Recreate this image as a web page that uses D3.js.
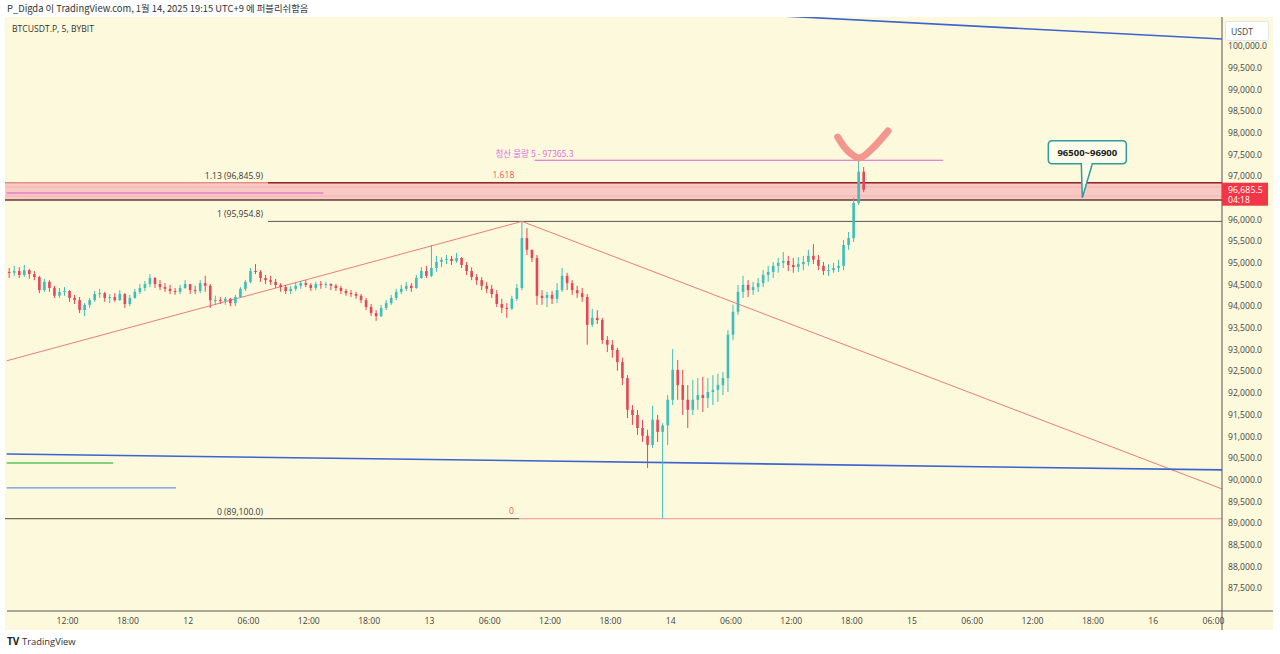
<!DOCTYPE html>
<html><head><meta charset="utf-8">
<script src="https://cdn.jsdelivr.net/npm/d3@7"></script>
<style>
html,body{margin:0;padding:0;background:#fff;}
svg{display:block;font-family:"Open Sans","Noto Sans","Noto Sans CJK KR",sans-serif;}
</style></head><body>
<svg id="c" width="1280" height="654"></svg>
<script>
// ---------------- data ----------------
const candleStart = "2025-01-11T06:00:00Z";
const candleMinutes = 30;
const firstOpen = 94790;
const highs = [
 94880,94930,94900,94950,94860,94810,94700,94630,94600,94470,
 94420,94440,94370,94260,94210,94070,94190,94350,94400,94330,
 94280,94300,94370,94300,94260,94400,94510,94580,94740,94670,
 94600,94530,94490,94420,94490,94600,94510,94470,94600,94700,
 94510,94240,94210,94210,94190,94260,94440,94600,94880,94970,
 94830,94720,94700,94630,94530,94490,94470,94560,94580,94600,
 94530,94560,94580,94560,94530,94510,94470,94400,94370,94330,
 94280,94190,94050,93910,94030,94140,94260,94400,94490,94560,
 94530,94720,94900,94930,95410,95160,95130,95180,95160,95230,
 95130,95020,94900,94740,94670,94560,94490,94370,94170,94070,
 94240,94510,95954.8,95800,95300,95180,94370,94330,94350,94530,
 94880,94770,94600,94470,94420,94280,93940,93910,93730,93310,
 93220,93040,92810,92410,91720,91610,91380,91150,91700,91490,
 91300,91950,93010,92760,92530,92180,92300,92340,92370,92340,
 92410,92440,92480,93450,94030,94490,94700,94600,94560,94650,
 94830,94930,95020,95110,95250,95160,95110,95130,95160,95300,
 95430,95180,95020,94970,95000,95070,95530,95710,96500,97370,
 97210];
const lows = [
 94650,94700,94650,94670,94630,94600,94300,94330,94330,94190,
 94190,94240,94100,94050,93840,93770,93960,94100,94190,94100,
 94070,94100,94120,93960,94000,94170,94280,94350,94440,94420,
 94370,94330,94280,94260,94280,94400,94280,94280,94300,94330,
 93960,94030,94050,94030,94000,94000,94190,94350,94530,94740,
 94560,94510,94490,94420,94330,94280,94280,94350,94400,94440,
 94350,94370,94400,94420,94370,94350,94280,94240,94210,94170,
 94070,93910,93770,93660,93750,93910,94030,94140,94280,94350,
 94330,94400,94630,94650,94670,94790,94900,94970,94950,95000,
 94880,94720,94600,94490,94370,94300,94190,93980,93840,93730,
 93910,94120,94370,95180,95020,94030,94030,93980,94050,94070,
 94330,94370,94260,94190,94100,93110,93520,93590,93130,92940,
 92810,92510,92180,91420,91260,91030,90870,90270,90730,90870,
 89100,90800,91720,91840,91490,91190,91490,91610,91560,91650,
 91720,91790,91950,92020,93220,93800,94190,94210,94260,94330,
 94440,94560,94650,94770,94880,94810,94770,94790,94830,94930,
 94970,94830,94720,94700,94770,94790,94830,95300,95480,96330,
 96630];
const closes = [
 94770,94810,94720,94830,94740,94670,94370,94560,94420,94240,
 94330,94350,94190,94140,93910,94030,94140,94280,94300,94190,
 94210,94140,94280,94050,94190,94330,94420,94510,94650,94510,
 94440,94400,94350,94330,94420,94510,94370,94350,94530,94470,
 94140,94140,94120,94170,94070,94210,94400,94560,94810,94790,
 94650,94600,94560,94490,94440,94350,94400,94470,94530,94490,
 94420,94510,94490,94510,94470,94420,94350,94300,94280,94240,
 94140,93980,93840,93770,93960,94070,94190,94330,94400,94470,
 94420,94650,94810,94700,94880,95020,95070,95090,95040,95110,
 94950,94810,94670,94600,94470,94400,94280,94050,93960,93940,
 94170,94420,95570,95300,95110,94240,94190,94260,94170,94370,
 94700,94530,94370,94300,94210,93570,93730,93680,93220,93110,
 92990,92710,92340,91610,91490,91190,91010,90800,91380,91100,
 91250,91840,92530,92180,91840,91610,91840,91950,91880,92020,
 92070,92180,92340,93340,93870,94330,94490,94370,94440,94530,
 94720,94790,94930,95000,95040,94950,94900,94970,95020,95160,
 95070,94930,94810,94830,94880,94930,95410,95570,96380,97100,
 96685.5];

const priceTicks = [87500,88000,88500,89000,89500,90000,90500,91000,91500,92000,92500,93000,
  93500,94000,94500,95000,95500,96000,96500,97000,97500,98000,98500,99000,99500,100000];
const timeTickLabels = ["12:00","18:00","12","06:00","12:00","18:00","13","06:00","12:00","18:00",
  "14","06:00","12:00","18:00","15","06:00","12:00","18:00","16","06:00"];

// drawings: [time, price] anchors
const blueTopLine = [["2025-01-14T03:00:00Z",100790],["2025-01-16T07:00:00Z",100160]];
const blueLowLine = [["2025-01-11T06:00:00Z",90592],["2025-01-16T07:00:00Z",90223]];
const redUpLine = [["2025-01-11T06:00:00Z",92740],["2025-01-13T09:15:00Z",95954.8]];
const redDownLine = [["2025-01-13T09:15:00Z",95954.8],["2025-01-16T07:00:00Z",89775]];
const greenLine = [["2025-01-11T06:00:00Z",90384],["2025-01-11T16:35:00Z",90384]];
const lightBlueLine = [["2025-01-11T06:00:00Z",89807],["2025-01-11T22:50:00Z",89807]];
const fibLabels = ["1.13 (96,845.9)","1 (95,954.8)","0 (89,100.0)"];
const fibPrices = [96845.9, 95954.8, 89100];
const fibStart = "2025-01-12T08:00:00Z";
const fib2Start = "2025-01-13T09:00:00Z";
const bandTop = 96845.9, bandBottom = 96450;
const magentaBandLine = [["2025-01-11T06:00:00Z",96610],["2025-01-12T13:30:00Z",96610]];
const liqLabel = "청산 물량 5 - 97365.3";
const liqLine = [["2025-01-13T10:30:00Z",97365.3],["2025-01-15T03:10:00Z",97365.3]];
const smilePts = [["2025-01-14T16:40:00Z",97900],["2025-01-14T17:40:00Z",97580],["2025-01-14T18:50:00Z",97420],
  ["2025-01-14T20:10:00Z",97650],["2025-01-14T21:40:00Z",98040]];
const calloutText = "96500~96900";
const calloutTip = ["2025-01-15T17:00:00Z", 96500];
const lastPriceValue = 96685.5, lastPrice = "96,685.5", countdown = "04:18";

// ---------------- chart ----------------
const svg = d3.select("#c");
const L = 5, R = 1273, T = 17, B = 630, plotR = 1222, plotB = 611;
const x = d3.scaleUtc().domain([new Date("2025-01-11T06:00:00Z"), new Date("2025-01-16T06:00:00Z")]).range([6.7, 1213]);
const y = d3.scaleLinear().domain([87500, 100000]).range([588, 46]);
const P = p => [x(new Date(p[0])), y(p[1])];
const UP = "#3dbdbb", DOWN = "#e5465a";

svg.append("rect").attr("x",L).attr("y",T).attr("width",R-L).attr("height",B-T).attr("fill","#fdf9dc");
svg.append("defs").append("clipPath").attr("id","plot").append("rect")
  .attr("x",L).attr("y",T).attr("width",plotR-L).attr("height",plotB-T);
const g = svg.append("g").attr("clip-path","url(#plot)");

// pink band
g.append("rect").attr("x",L).attr("width",plotR-L).attr("y",y(bandTop)).attr("height",y(bandBottom)-y(bandTop))
  .attr("fill","#f9c9c4");
g.append("line").attr("x1",L).attr("x2",plotR).attr("y1",y(96750)).attr("y2",y(96750)).attr("stroke","#f3b0b0").attr("stroke-width",0.8);
g.append("line").attr("x1",L).attr("x2",plotR).attr("y1",y(96540)).attr("y2",y(96540)).attr("stroke","#f3b0b0").attr("stroke-width",0.8);
g.append("line").attr("x1",L).attr("x2",plotR).attr("y1",y(bandTop)).attr("y2",y(bandTop)).attr("stroke","#d86a6a").attr("stroke-width",1.2);
g.append("line").attr("x1",L).attr("x2",plotR).attr("y1",y(bandBottom)).attr("y2",y(bandBottom)).attr("stroke","#6a3a3a").attr("stroke-width",1.6);
const mb = magentaBandLine.map(P);
g.append("line").attr("x1",mb[0][0]).attr("y1",mb[0][1]).attr("x2",mb[1][0]).attr("y2",mb[1][1]).attr("stroke","#d45bd4").attr("stroke-width",1.2);

// fib lines
const fx = x(new Date(fibStart)), fx2 = x(new Date(fib2Start));
g.append("line").attr("x1",fx).attr("x2",plotR).attr("y1",y(fibPrices[0])).attr("y2",y(fibPrices[0])).attr("stroke","#8e2b2b").attr("stroke-width",1.6);
g.append("line").attr("x1",fx).attr("x2",plotR).attr("y1",y(fibPrices[1])).attr("y2",y(fibPrices[1])).attr("stroke","#555").attr("stroke-width",1);
g.append("line").attr("x1",L).attr("x2",fx2).attr("y1",y(fibPrices[2])).attr("y2",y(fibPrices[2])).attr("stroke","#6f6a5a").attr("stroke-width",1.3);
g.append("line").attr("x1",fx2).attr("x2",plotR).attr("y1",y(fibPrices[2])).attr("y2",y(fibPrices[2])).attr("stroke","#f4a5a5").attr("stroke-width",1.3);
fibLabels.forEach((t,i)=>{
  svg.append("text").attr("x",fx-5).attr("y",y(fibPrices[i])-4).attr("text-anchor","end")
    .attr("font-size",8.6).attr("fill","#3a3a3a").text(t);
});
svg.append("text").attr("x",fx2-16).attr("y",y(fibPrices[0])-5).attr("text-anchor","middle").attr("font-size",8.6).attr("fill","#ef5a5a").text("1.618");
svg.append("text").attr("x",fx2-8).attr("y",y(fibPrices[2])-5).attr("text-anchor","middle").attr("font-size",8.6).attr("fill","#ef5a5a").text("0");

// trend lines
const seg = (pts, color, w) => { const a = pts.map(P);
  g.append("line").attr("x1",a[0][0]).attr("y1",a[0][1]).attr("x2",a[1][0]).attr("y2",a[1][1]).attr("stroke",color).attr("stroke-width",w); };
seg(redUpLine, "#ee7b7b", 1);
seg(redDownLine, "#ee7b7b", 1);
seg(blueTopLine, "#3d62d1", 1.6);
seg(blueLowLine, "#3d62d1", 1.6);
seg(greenLine, "#5cc25c", 1.6);
seg(lightBlueLine, "#6a95ee", 1.3);
seg(liqLine, "#d95ed9", 1.2);
svg.append("text").attr("x",P(liqLine[0])[0]).attr("y",P(liqLine[0])[1]-3).attr("text-anchor","middle")
  .attr("font-size",8.6).attr("fill","#e070e0").attr("font-family","Noto Sans CJK KR, sans-serif").text(liqLabel);

// candles
const start = new Date(candleStart);
const candles = closes.map((c,i)=>({t:d3.utcMinute.offset(start, i*candleMinutes+candleMinutes/2),
  o: i ? closes[i-1] : firstOpen, h: highs[i], l: lows[i], c}));
const cg = g.append("g");
cg.selectAll("line").data(candles).join("line")
  .attr("x1",d=>x(d.t)).attr("x2",d=>x(d.t)).attr("y1",d=>y(d.h)).attr("y2",d=>y(d.l))
  .attr("stroke",d=>d.c>=d.o?UP:DOWN).attr("stroke-width",1);
cg.selectAll("rect").data(candles).join("rect")
  .attr("x",d=>x(d.t)-1.3).attr("width",2.6)
  .attr("y",d=>y(Math.max(d.o,d.c))).attr("height",d=>Math.max(1,Math.abs(y(d.o)-y(d.c))))
  .attr("fill",d=>d.c>=d.o?UP:DOWN);

// smile mark
g.append("path").attr("d", d3.line().curve(d3.curveCatmullRom)(smilePts.map(P)))
  .attr("fill","none").attr("stroke","#f39089").attr("stroke-width",7).attr("stroke-linecap","round").attr("opacity",0.95);

// callout
const [tx, ty] = P(calloutTip);
const bx = tx-34, bw = 78, by = ty-57, bh = 23;
svg.append("path").attr("d",`M${bx+4},${by} H${bx+bw-4} Q${bx+bw},${by} ${bx+bw},${by+4} V${by+bh-4} Q${bx+bw},${by+bh} ${bx+bw-4},${by+bh} H${tx+10} L${tx},${ty} L${tx-1},${by+bh} H${bx+4} Q${bx},${by+bh} ${bx},${by+bh-4} V${by+4} Q${bx},${by} ${bx+4},${by} Z`)
  .attr("fill","#fdfbe9").attr("stroke","#2f9c9c").attr("stroke-width",1.5);
svg.append("text").attr("x",bx+bw/2).attr("y",by+bh/2+3.5).attr("text-anchor","middle").attr("font-size",9.5)
  .attr("font-weight","bold").attr("fill","#222").text(calloutText);

// axes frame
svg.append("line").attr("x1",plotR).attr("x2",plotR).attr("y1",T).attr("y2",B).attr("stroke","#555").attr("stroke-width",1);
svg.append("line").attr("x1",L+2).attr("x2",R).attr("y1",plotB).attr("y2",plotB).attr("stroke","#555").attr("stroke-width",1);

// price axis (labels hidden under the last-price tag, as in the original)
const ly = y(lastPriceValue);
const shownTicks = priceTicks.filter(p => Math.abs(y(p) - (ly + 4.5)) > 14);
svg.append("g").attr("transform",`translate(${plotR},0)`)
  .call(d3.axisRight(y).tickValues(shownTicks).tickFormat(d3.format(",.1f")).tickSize(0).tickPadding(6))
  .call(a=>a.select(".domain").remove())
  .call(a=>a.selectAll("text").attr("font-size",8.6).attr("fill","#444").attr("font-family","Open Sans, sans-serif"));

// USDT box
svg.append("rect").attr("x",1225.5).attr("y",21.5).attr("width",43).attr("height",19).attr("rx",2)
  .attr("fill","#fff").attr("stroke","#e4e4e4");
svg.append("text").attr("x",1231).attr("y",34.5).attr("font-size",8.6).attr("fill","#444").text("USDT");

// last price label
svg.append("rect").attr("x",plotR).attr("y",ly-7).attr("width",46).attr("height",23).attr("fill","#f23645");
svg.append("text").attr("x",1228).attr("y",ly+3).attr("font-size",8.8).attr("fill","#fff").text(lastPrice);
svg.append("text").attr("x",1228).attr("y",ly+13.5).attr("font-size",8.6).attr("fill","#fff").text(countdown);

// time axis
const tTicks = d3.utcHour.range(new Date("2025-01-11T12:00:00Z"), new Date("2025-01-16T06:01:00Z"), 6);
svg.append("g").attr("transform",`translate(0,${plotB})`)
  .call(d3.axisBottom(x).tickValues(tTicks).tickFormat((d,i)=>timeTickLabels[i]).tickSize(0).tickPadding(7))
  .call(a=>a.select(".domain").remove())
  .call(a=>a.selectAll("text").attr("font-size",8.6).attr("fill","#444").attr("font-family","Open Sans, sans-serif"));

// header / footer
svg.append("text").attr("x",7).attr("y",12).attr("font-size",9.4).attr("fill","#333")
  .attr("font-family","Noto Sans CJK KR, sans-serif").text("P_Digda 이 TradingView.com, 1월 14, 2025 19:15 UTC+9 에 퍼블리쉬함음");
svg.append("text").attr("x",12).attr("y",32).attr("font-size",8.6).attr("fill","#333").text("BTCUSDT.P, 5, BYBIT");
svg.append("text").attr("x",7).attr("y",645).attr("font-size",10).attr("font-weight","bold").attr("fill","#222").text("TV");
svg.append("text").attr("x",22).attr("y",645).attr("font-size",9.4).attr("fill","#333").text("TradingView");
</script></body></html>
